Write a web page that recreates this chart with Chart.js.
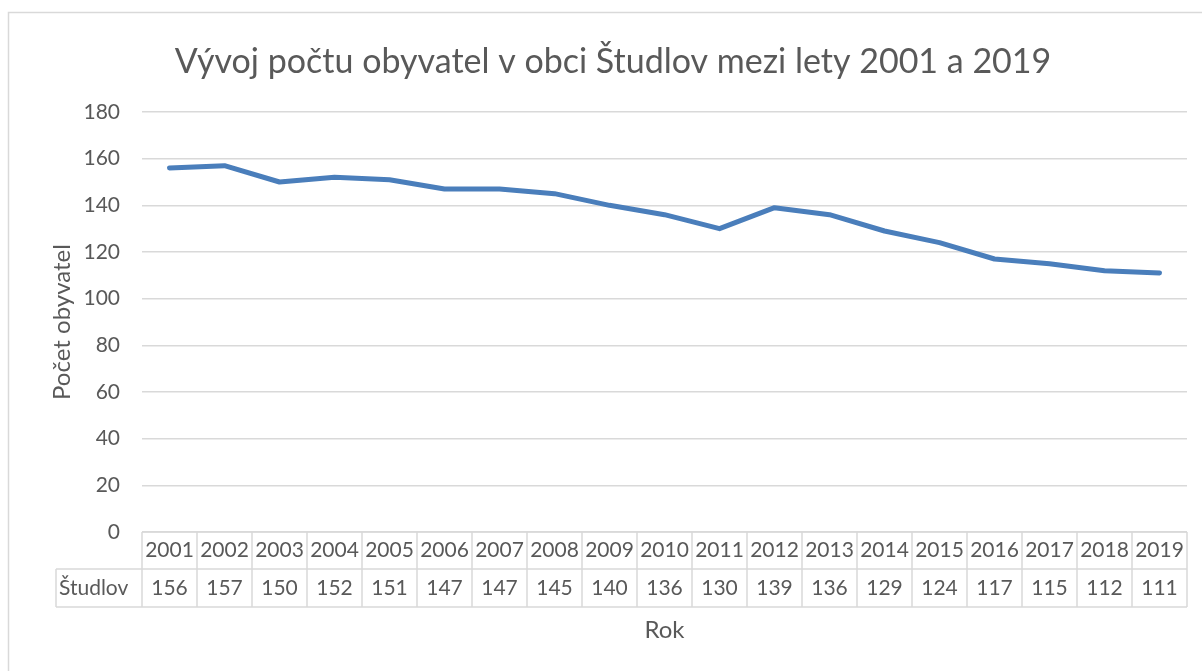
<!DOCTYPE html>
<html>
<head>
<meta charset="utf-8">
<script src="https://cdn.jsdelivr.net/npm/chart.js@4"></script>
<style>
  body { margin: 0; background: #fff; }
  canvas { display: block; }
</style>
</head>
<body>
<canvas id="chart" width="1202" height="671"></canvas>
<script>
// data
const years = ['2001', '2002', '2003', '2004', '2005', '2006', '2007', '2008', '2009', '2010',
  '2011', '2012', '2013', '2014', '2015', '2016', '2017', '2018', '2019'];
const population = [156, 157, 150, 152, 151, 147, 147, 145, 140, 136, 130, 139, 136, 129, 124, 117, 115, 112, 111];
const seriesName = 'Študlov';
const chartTitle = 'Vývoj počtu obyvatel v obci Študlov mezi lety 2001 a 2019';
const yTitle = 'Počet obyvatel';
const xTitle = 'Rok';

const textColor = '#595959';
const lineColor = '#d9d9d9';
const fontFamily = 'Lato, "Open Sans", sans-serif';

// border, title and the data table under the axis
const excelBits = {
  id: 'excelBits',
  afterDraw(chart) {
    const ctx = chart.ctx;
    const x = chart.scales.x;
    const area = chart.chartArea;
    const half = (x.getPixelForValue(1) - x.getPixelForValue(0)) / 2;

    ctx.save();
    ctx.strokeStyle = lineColor;
    ctx.lineWidth = 1.5;
    ctx.strokeRect(8.5, 12.5, 1300, 700);

    ctx.fillStyle = textColor;
    ctx.textAlign = 'center';
    ctx.textBaseline = 'middle';
    ctx.font = '34px ' + fontFamily;
    ctx.fillText(chartTitle, 613, 62);

    const row1 = area.bottom;
    const row2 = row1 + 37;
    const row3 = row2 + 38;
    const labelLeft = 56;

    ctx.beginPath();
    ctx.moveTo(area.left, row1); ctx.lineTo(area.right, row1);
    ctx.moveTo(labelLeft, row2); ctx.lineTo(area.right, row2);
    ctx.moveTo(labelLeft, row3); ctx.lineTo(area.right, row3);
    ctx.moveTo(labelLeft, row2); ctx.lineTo(labelLeft, row3);
    years.forEach((y, i) => {
      const px = x.getPixelForValue(i);
      ctx.moveTo(px - half, row1); ctx.lineTo(px - half, row3);
    });
    ctx.moveTo(area.right, row1); ctx.lineTo(area.right, row3);
    ctx.stroke();

    ctx.font = '21px ' + fontFamily;
    years.forEach((y, i) => {
      const px = x.getPixelForValue(i);
      ctx.fillText(y, px, (row1 + row2) / 2);
      ctx.fillText(String(population[i]), px, (row2 + row3) / 2);
    });
    ctx.textAlign = 'left';
    ctx.fillText(seriesName, labelLeft + 3, (row2 + row3) / 2);

    ctx.textAlign = 'center';
    ctx.font = '24px ' + fontFamily;
    ctx.fillText(xTitle, (area.left + area.right) / 2, 630);
    ctx.restore();
  }
};

new Chart(document.getElementById('chart'), {
  type: 'line',
  data: {
    labels: years,
    datasets: [{
      label: seriesName,
      data: population,
      borderColor: '#4a7ebb',
      borderWidth: 5,
      borderCapStyle: 'round',
      borderJoinStyle: 'round',
      pointRadius: 0,
      tension: 0
    }]
  },
  options: {
    responsive: false,
    animation: false,
    layout: { padding: { top: 112, right: 15, bottom: 139, left: 0 } },
    plugins: {
      legend: { display: false },
      title: { display: false },
      tooltip: { enabled: false }
    },
    scales: {
      x: {
        display: false,
        offset: true
      },
      y: {
        min: 0,
        max: 180,
        ticks: { stepSize: 20, padding: 22, color: textColor, font: { family: fontFamily, size: 21 } },
        grid: { color: lineColor, lineWidth: 1.5, drawTicks: false },
        border: { display: false },
        title: {
          display: true,
          text: yTitle,
          color: textColor,
          font: { family: fontFamily, size: 24 },
          padding: { top: 48, bottom: 0 }
        },
        afterFit(scale) { scale.width = 142; }
      }
    }
  },
  plugins: [excelBits]
});
</script>
</body>
</html>
